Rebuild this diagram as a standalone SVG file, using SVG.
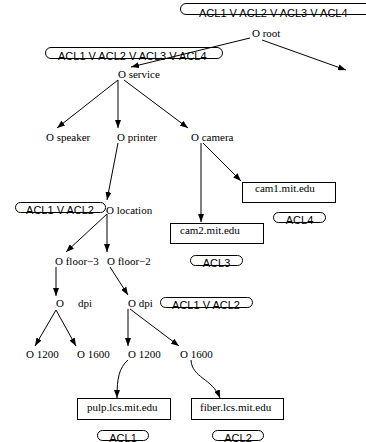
<svg xmlns="http://www.w3.org/2000/svg" width="366" height="442" viewBox="0 0 366 442">
<style>
.lbl{font-family:"Liberation Serif","Times New Roman",serif;font-size:11px;fill:#000}
.acl{font-family:"Liberation Sans",Arial,sans-serif;font-size:11px;fill:#000}
.pill{fill:#fff;stroke:#000;stroke-width:1}
.box{fill:#fff;stroke:#000;stroke-width:1}
.edge{fill:none;stroke:#000;stroke-width:1;marker-end:url(#ah)}
</style>
<defs>
<marker id="ah" markerWidth="8" markerHeight="6" refX="8" refY="3" orient="auto" markerUnits="userSpaceOnUse">
<path d="M0,0 L8,3 L0,6 z" fill="#000"/>
</marker>
</defs>
<rect width="366" height="442" fill="#fff"/>
<g id="acl-top"><rect class="pill" x="180.5" y="3.5" width="192" height="11" rx="5.5"/><text class="acl" x="199" y="16.5">ACL1 V ACL2 V ACL3 V ACL4</text></g>
<g id="acl-service"><rect class="pill" x="45.5" y="47.5" width="177" height="11" rx="5.5"/><text class="acl" x="58" y="60">ACL1 V ACL2 V ACL3 V ACL4</text></g>
<g id="connectors">
<path class="edge" d="M250,38 L131,67"/>
<path class="edge" d="M262,40 L346,70"/>
<path class="edge" d="M118,80 L57,128"/>
<path class="edge" d="M118,80 L118,128"/>
<path class="edge" d="M124,80 L188,128"/>
<path class="edge" d="M118,143 L107,200"/>
<path class="edge" d="M201,143 L201,222"/>
<path class="edge" d="M203,143 L241,181"/>
<path class="edge" d="M107,214 L66,252"/>
<path class="edge" d="M107,214 L107,252"/>
<path class="edge" d="M56,267 L56,296"/>
<path class="edge" d="M110,267 L128,295"/>
<path class="edge" d="M56,310 L35,346"/>
<path class="edge" d="M56,310 L76,346"/>
<path class="edge" d="M128,309 L128,346"/>
<path class="edge" d="M130,309 L179,346"/>
<path class="edge" d="M128,360 C119,368 117,378 117,398"/>
<path class="edge" d="M191,360 C192,378 212,378 220,398"/>
</g>
<g id="root"><text class="lbl" x="252" y="37">O root</text></g>
<g id="service"><text class="lbl" x="118" y="78">O service</text></g>
<g id="speaker"><text class="lbl" x="46" y="141">O speaker</text></g>
<g id="printer"><text class="lbl" x="117" y="141">O printer</text></g>
<g id="camera"><text class="lbl" x="191" y="141">O camera</text></g>
<g id="cam1"><rect class="box" x="242.5" y="182.5" width="93" height="20"/><text class="lbl" x="255" y="192">cam1.mit.edu</text></g>
<g id="acl4"><rect class="pill" x="273.5" y="212.5" width="52" height="10" rx="5"/><text class="acl" x="299.5" y="223.5" text-anchor="middle">ACL4</text></g>
<g id="acl-location"><rect class="pill" x="15.5" y="202.5" width="90" height="10" rx="5"/><text class="acl" x="60" y="213.5" text-anchor="middle">ACL1 V ACL2</text></g>
<g id="location"><text class="lbl" x="106" y="214">O location</text></g>
<g id="cam2"><rect class="box" x="170.5" y="223.5" width="93" height="20"/><text class="lbl" x="180" y="234">cam2.mit.edu</text></g>
<g id="acl3"><rect class="pill" x="190.5" y="255.5" width="52" height="10" rx="5"/><text class="acl" x="216.5" y="266.5" text-anchor="middle">ACL3</text></g>
<g id="floor3"><text class="lbl" x="55" y="265">O floor−3</text></g>
<g id="floor2"><text class="lbl" x="107" y="265">O floor−2</text></g>
<g id="dpi-left"><text class="lbl" x="56" y="307">O<tspan x="78">dpi</tspan></text></g>
<g id="dpi-right"><text class="lbl" x="128" y="307">O dpi</text></g>
<g id="acl-dpi"><rect class="pill" x="160.5" y="297.5" width="92" height="10" rx="5"/><text class="acl" x="206" y="308.5" text-anchor="middle">ACL1 V ACL2</text></g>
<g id="v1200a"><text class="lbl" x="26" y="358">O 1200</text></g>
<g id="v1600a"><text class="lbl" x="77" y="358">O 1600</text></g>
<g id="v1200b"><text class="lbl" x="128" y="358">O 1200</text></g>
<g id="v1600b"><text class="lbl" x="180" y="358">O 1600</text></g>
<g id="pulp"><rect class="box" x="77.5" y="398.5" width="93" height="21"/><text class="lbl" x="87" y="411">pulp.lcs.mit.edu</text></g>
<g id="fiber"><rect class="box" x="191.5" y="398.5" width="92" height="21"/><text class="lbl" x="200" y="411">fiber.lcs.mit.edu</text></g>
<g id="acl1"><rect class="pill" x="97.5" y="430.5" width="51" height="10" rx="5"/><text class="acl" x="123" y="441.5" text-anchor="middle">ACL1</text></g>
<g id="acl2"><rect class="pill" x="212.5" y="430.5" width="51" height="10" rx="5"/><text class="acl" x="238" y="441.5" text-anchor="middle">ACL2</text></g>
</svg>
